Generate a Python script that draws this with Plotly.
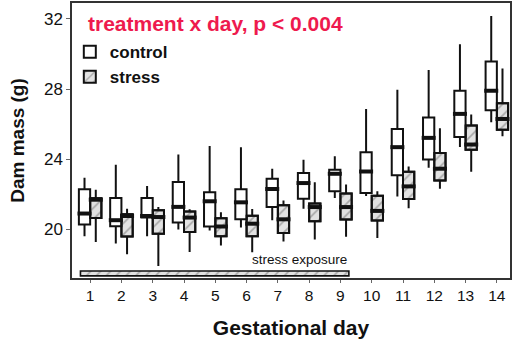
import plotly.graph_objects as go

days = list(range(1, 15))
tick_vals_y = [20, 24, 28, 32]

control_upper = [22.94, 23.68, 22.46, 24.26, 24.74, 24.68, 23.45, 23.96, 24.16, 26.86, 27.96, 29.08, 30.56, 32.17]
control_q3 = [22.27, 21.78, 21.78, 22.69, 22.10, 22.27, 22.88, 23.20, 23.39, 24.39, 25.71, 26.38, 27.90, 29.57]
control_med = [20.89, 20.51, 20.75, 21.27, 21.59, 21.53, 22.29, 22.63, 23.16, 23.29, 24.68, 25.21, 26.58, 27.90]
control_q1 = [20.26, 20.17, 20.66, 20.38, 20.15, 20.56, 21.26, 21.74, 22.16, 22.06, 23.07, 23.98, 25.26, 26.78]
control_lower = [19.60, 19.18, 19.60, 19.98, 19.92, 20.10, 20.51, 21.17, 21.78, 21.89, 21.87, 23.50, 24.69, 26.10]

stress_upper = [22.25, 21.17, 21.26, 21.13, 20.96, 21.15, 21.64, 22.67, 22.55, 22.16, 23.58, 25.76, 26.54, 29.17]
stress_q3 = [21.76, 20.85, 21.08, 21.00, 20.62, 20.76, 21.37, 21.47, 22.03, 21.91, 23.28, 24.35, 25.91, 27.18]
stress_med = [21.68, 20.75, 20.69, 20.66, 20.15, 20.31, 20.56, 21.26, 21.26, 21.04, 22.44, 23.45, 24.83, 26.29]
stress_q1 = [20.64, 19.58, 19.73, 19.84, 19.60, 19.60, 19.78, 20.45, 20.55, 20.49, 21.72, 22.78, 24.53, 25.67]
stress_lower = [19.27, 18.57, 17.89, 18.69, 19.07, 18.68, 19.30, 19.41, 19.56, 19.50, 21.19, 22.31, 23.27, 25.30]

stress_days = [1, 9]

FONT = "Liberation Sans, Arial, Helvetica, sans-serif"
BOXW = 0.36
HATCH = dict(shape="/", bgcolor="#e2e2e2", fgcolor="#6e6e6e", size=8, solidity=0.22)

x_control = [d - BOXW / 2 for d in days]
x_stress = [d + BOXW / 2 for d in days]

fig = go.Figure()

# control boxes
fig.add_trace(go.Box(
    x=x_control, q1=control_q1, median=control_med, q3=control_q3,
    lowerfence=control_lower, upperfence=control_upper, width=BOXW,
    name="control", boxpoints=False, whiskerwidth=0,
    fillcolor="white", line=dict(color="#111", width=2),
))

# hatched fill for stress boxes
fig.add_trace(go.Bar(
    x=x_stress, y=[a - b for a, b in zip(stress_q3, stress_q1)], base=stress_q1,
    width=BOXW, name="stress", showlegend=True,
    marker=dict(color="#e2e2e2", pattern=HATCH, line=dict(color="#111", width=2)),
    hoverinfo="skip",
))

# stress exposure bar
fig.add_trace(go.Bar(
    orientation="h", y=[17.47], x=[stress_days[1] - stress_days[0] + 0.58],
    base=[stress_days[0] - 0.31], width=[0.28], showlegend=False,
    marker=dict(color="#e2e2e2", pattern=dict(shape="/", bgcolor="#e2e2e2", fgcolor="#666", size=7, solidity=0.22),
                line=dict(color="#111", width=1.6)),
    hoverinfo="skip",
))

fig.add_trace(go.Box(
    x=x_stress, q1=stress_q1, median=stress_med, q3=stress_q3,
    lowerfence=stress_lower, upperfence=stress_upper, width=BOXW,
    name="stress box", boxpoints=False, whiskerwidth=0, showlegend=False,
    fillcolor="rgba(0,0,0,0)", line=dict(color="#111", width=2),
))

# thick medians
fig.add_trace(go.Scatter(
    x=x_control + x_stress, y=control_med + stress_med, mode="markers",
    showlegend=False, hoverinfo="skip",
    marker=dict(symbol="line-ew", size=10, line=dict(color="#111", width=4)),
))

fig.add_annotation(
    text="treatment x day, p < 0.004", xref="paper", yref="paper", x=0.033, y=0.927,
    xanchor="left", yanchor="middle", showarrow=False,
    font=dict(family=FONT, size=21, color="#ee1a4e", weight="bold"),
)
fig.add_annotation(
    text="stress exposure", xref="x", yref="y", x=stress_days[1] + 0.27, y=17.47,
    xanchor="right", yanchor="bottom", yshift=4, showarrow=False,
    font=dict(family=FONT, size=13.5, color="#111"),
)

fig.update_layout(
    width=512, height=342, margin=dict(l=72, r=2, t=3, b=64, autoexpand=False),
    paper_bgcolor="white", plot_bgcolor="white",
    boxmode="overlay", barmode="overlay",
    font=dict(family=FONT, color="#111"),
    legend=dict(x=-0.005, y=0.887, xanchor="left", yanchor="top", bgcolor="rgba(0,0,0,0)",
                font=dict(family=FONT, size=17, weight="bold", color="#111"),
                tracegroupgap=0, itemwidth=30),
    xaxis=dict(range=[0.42, 14.42], tickvals=days, ticktext=[str(d) for d in days],
               showline=True, mirror=True, linecolor="#333", linewidth=1.5,
               ticks="outside", ticklen=3, tickcolor="#666", showgrid=False, zeroline=False,
               tickfont=dict(family=FONT, size=15.5, color="#111"),
               title=dict(text="Gestational day", font=dict(family=FONT, size=21, weight="bold"), standoff=17)),
    yaxis=dict(range=[17.21, 32.91], tickvals=tick_vals_y, ticktext=[str(v) for v in tick_vals_y],
               showline=True, mirror=True, linecolor="#333", linewidth=1.5,
               ticks="outside", ticklen=4, tickcolor="#666", showgrid=False, zeroline=False,
               tickfont=dict(family=FONT, size=17, color="#111"),
               title=dict(text="Dam mass (g)", font=dict(family=FONT, size=19, weight="bold"), standoff=14)),
)

fig.write_html("out.html", config={"displayModeBar": False},
               post_script="document.body.style.margin='0px';")
